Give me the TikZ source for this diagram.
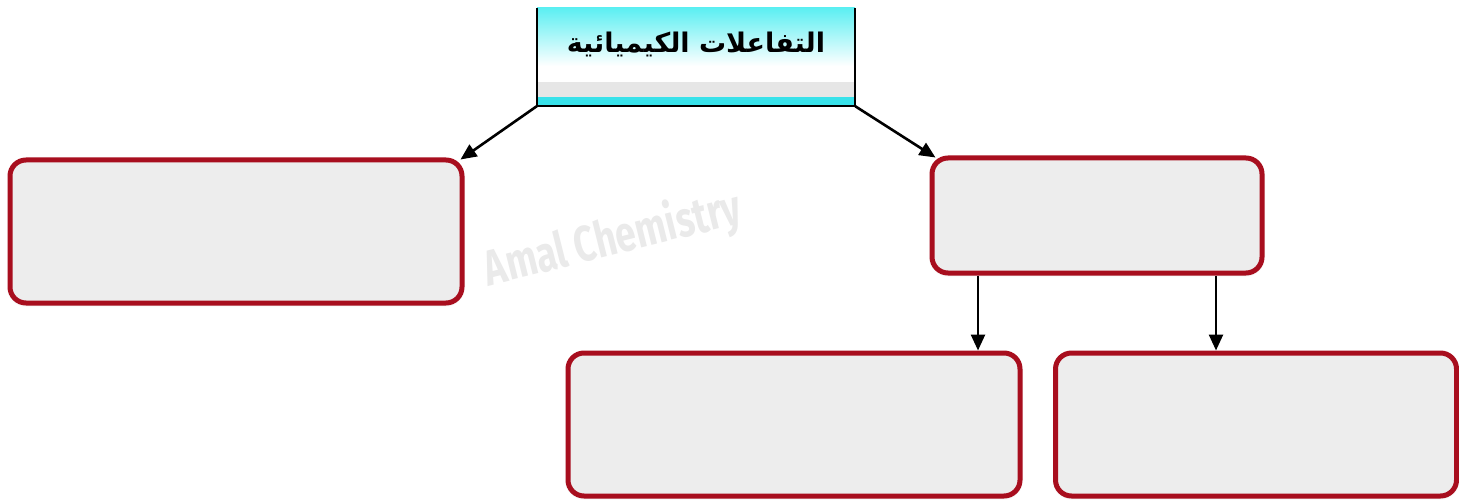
\documentclass[tikz,border=0pt]{standalone}
\usepackage{fontspec}
\usetikzlibrary{arrows.meta,shadows.blur}
\TeXXeTstate=1
\newfontfamily\arabicfont[Script=Arabic]{DejaVu Sans}
\newfontfamily\markfont[FakeStretch=0.74]{Fira Sans}
\definecolor{boxred}{HTML}{A80E1E}
\definecolor{boxfill}{HTML}{EDEDED}
\definecolor{headcyan}{HTML}{5CEFF2}
\definecolor{bandcyan}{HTML}{38E2EA}
\definecolor{bandgray}{HTML}{E6E6E6}
\definecolor{markgray}{HTML}{EAEAEA}
\tikzset{
  answerbox/.style={draw=boxred, line width=5pt, fill=boxfill, rounded corners=16pt,
    blur shadow={shadow xshift=0pt, shadow yshift=-1pt, shadow blur radius=3pt, shadow opacity=25}},
  link/.style={draw=black, line width=2.6pt, -{Triangle[length=16pt,width=14pt]}},
}
\begin{document}
\begin{tikzpicture}[x=1pt,y=-1pt]
\useasboundingbox (0,0) rectangle (1459,500);

% heading panel: cyan fading to white, grey band, cyan strip
\shade[top color=headcyan, bottom color=white] (537,8) rectangle (855,66);
\fill[white] (537,66) rectangle (855,82);
\fill[bandgray] (537,82) rectangle (855,97);
\fill[bandcyan] (537,97) rectangle (855,105);
\draw[black, line width=2pt] (537,8) -- (537,106) -- (855,106) -- (855,8);
\node[minimum width=318pt, minimum height=98pt, inner sep=0pt] (title) at (696,57) {};
\node at (696,44) {\arabicfont\bfseries\fontsize{27}{32}\selectfont\beginR التفاعلات الكيميائية\endR};

% watermark
\node[rotate=14, text=markgray] (mark) at (613,240)
  {\markfont\bfseries\fontsize{50}{56}\selectfont Amal Chemistry};

% answer boxes
\node[answerbox, minimum width=452pt, minimum height=143pt] (boxL) at (236,231.5) {};
\node[answerbox, minimum width=330pt, minimum height=115pt] (boxR) at (1097,215.5) {};
\node[answerbox, minimum width=452pt, minimum height=143pt] (boxBL) at (794,424.5) {};
\node[answerbox, minimum width=401pt, minimum height=143pt] (boxBR) at (1256,424.5) {};

% connectors
\draw[link] (title.south west) -- ([xshift=-4pt,yshift=-2pt]boxL.north east);
\draw[link] (title.south east) -- ([xshift=6pt,yshift=-2pt]boxR.north west);
\draw[link] ([xshift=-119pt]boxR.south) -- ([xshift=-119pt]boxR.south |- boxBL.north);
\draw[link] ([xshift=119pt]boxR.south) -- ([xshift=119pt]boxR.south |- boxBR.north);
\end{tikzpicture}
\end{document}
